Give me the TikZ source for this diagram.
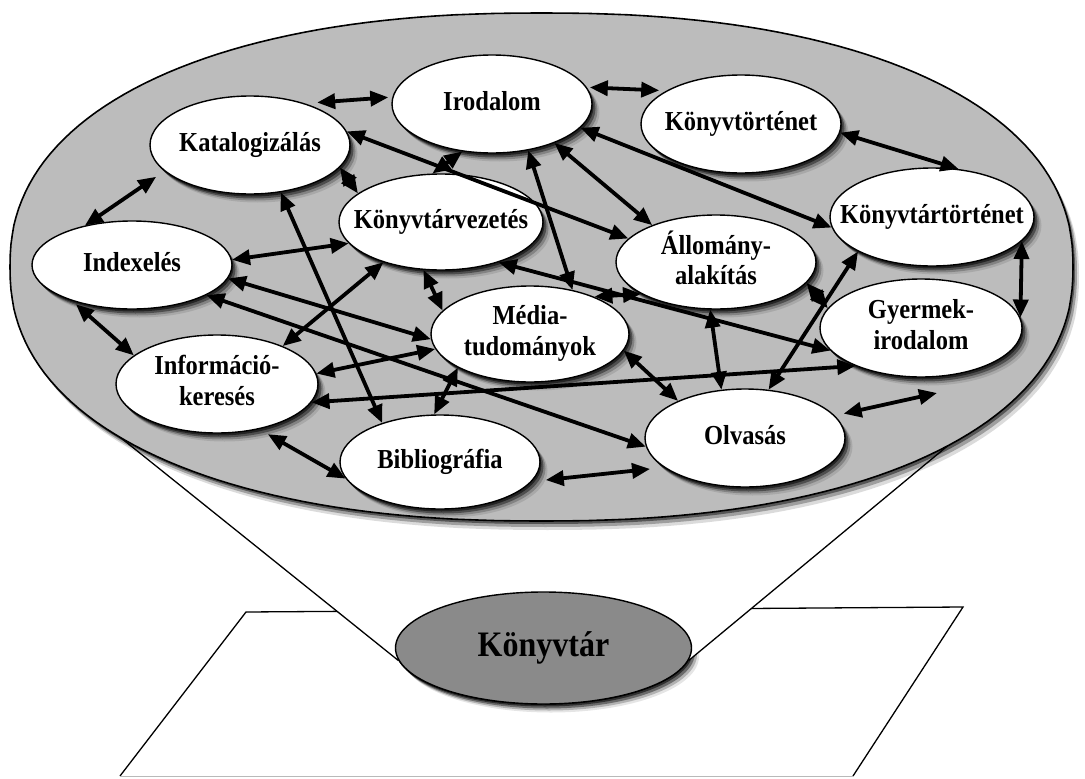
\documentclass[tikz,border=0pt]{standalone}
\usepackage{fontspec}
\setmainfont{Liberation Serif}
\usetikzlibrary{shapes.geometric,arrows.meta,shadows}
\definecolor{biggray}{RGB}{188,188,188}
\definecolor{knygray}{RGB}{138,138,138}
\newcommand{\lbtxt}[1]{\scalebox{1}[1.12]{\begin{tabular}{@{}c@{}}#1\end{tabular}}}
\begin{document}
\begin{tikzpicture}[x=1pt,y=-1pt,
  shd/.style={drop shadow={shadow xshift=1.5pt,shadow yshift=-2.5pt,opacity=.55,fill=black},
              drop shadow={shadow xshift=3.5pt,shadow yshift=-4.5pt,opacity=.4,fill=black},
              drop shadow={shadow xshift=5.5pt,shadow yshift=-6.5pt,opacity=.22,fill=black},
              drop shadow={shadow xshift=7.5pt,shadow yshift=-8.5pt,opacity=.1,fill=black}},
  nd/.style={ellipse, draw=black, line width=1.4pt, fill=white, inner sep=0pt, shd},
  lbl/.style={font=\fontsize{24.5}{27}\selectfont\bfseries, inner sep=0pt},
  dbl/.style={line width=3.8pt, {Triangle[length=18pt,width=15pt]}-{Triangle[length=18pt,width=15pt]}},
  thin/.style={line width=1.3pt},
  sepath/.style={insert path={
    plot[domain=0:90,samples=50] ({541.5+531.5*(abs(cos(\x))+0.00002)^0.889},{267-254*(abs(sin(\x))+0.00002)^0.889})
    -- plot[domain=90:180,samples=50] ({541.5-531.5*(abs(cos(\x))+0.00002)^0.889},{267-254*(abs(sin(\x))+0.00002)^0.889})
    -- plot[domain=180:270,samples=50] ({541.5-531.5*(abs(cos(\x))+0.00002)^0.889},{267+254*(abs(sin(\x))+0.00002)^0.889})
    -- plot[domain=270:360,samples=50] ({541.5+531.5*(abs(cos(\x))+0.00002)^0.889},{267+254*(abs(sin(\x))+0.00002)^0.889})
    -- cycle}}
]
\useasboundingbox[fill=white] (0,0) rectangle (1085,779);

% plane
\coordinate (p1) at (246,612);
\coordinate (p2) at (963,607);
\coordinate (p3) at (853,776);
\coordinate (p4) at (120,776);
\draw[thin] (p4) -- (p1) -- (p2) -- (p3);
\draw[line width=0.8pt, gray!55] (p3) -- (p4);

% Könyvtár node
\node[ellipse, draw=black, line width=1.4pt, fill=knygray, inner sep=0pt,
      minimum width=296pt, minimum height=112pt, shd] (kny) at (543.5,648) {};
\coordinate (fl) at (80,405);
\coordinate (fr) at (980,419);
\fill[white] (fl) -- (kny.185) -- (kny.-5) -- (fr) -- cycle;
\draw[thin] (fl) -- (kny.185);
\draw[thin] (fr) -- (kny.-5);
\node[ellipse, draw=black, line width=1.4pt, fill=knygray, inner sep=0pt,
      minimum width=296pt, minimum height=112pt] (kny2) at (kny) {};
\node[font=\fontsize{32}{36}\selectfont\bfseries, inner sep=0pt] (knyt) at (kny) {\scalebox{1}[1.12]{Könyvtár}};

% big field
\fill[black, opacity=.45, xshift=2pt, yshift=-3pt, sepath];
\fill[black, opacity=.28, xshift=4pt, yshift=-6pt, sepath];
\fill[black, opacity=.14, xshift=6pt, yshift=-9pt, sepath];
\filldraw[fill=biggray, draw=black, line width=1.6pt, sepath];

% nodes
\node[nd, minimum width=200pt, minimum height=98pt] (ir)  at (492,104) {};
\node[nd, minimum width=200pt, minimum height=98pt] (kat) at (250,145) {};
\node[nd, minimum width=200pt, minimum height=98pt] (kt)  at (741,124) {};
\node[nd, minimum width=204pt, minimum height=96pt] (kv)  at (441,222) {};
\node[nd, minimum width=200pt, minimum height=88pt] (ix)  at (132,265) {};
\node[nd, minimum width=204pt, minimum height=98pt] (ktt) at (932,217) {};
\node[nd, minimum width=200pt, minimum height=94pt] (all) at (716,262) {};
\node[nd, minimum width=202pt, minimum height=98pt] (gy)  at (921,328) {};
\node[nd, minimum width=198pt, minimum height=96pt] (med) at (530,334) {};
\node[nd, minimum width=202pt, minimum height=98pt] (inf) at (217,384) {};
\node[nd, minimum width=200pt, minimum height=94pt] (bib) at (440,462) {};
\node[nd, minimum width=200pt, minimum height=98pt] (olv) at (745,438) {};

\node[lbl] (irt)  at (ir)  {\lbtxt{Irodalom}};
\node[lbl] (katt) at (kat) {\lbtxt{Katalogizálás}};
\node[lbl] (ktt1) at (kt)  {\lbtxt{Könyvtörténet}};
\node[lbl] (kvt)  at (kv)  {\lbtxt{Könyvtárvezetés}};
\node[lbl] (ixt)  at (ix)  {\lbtxt{Indexelés}};
\node[lbl] (kttt) at (ktt) {\lbtxt{Könyvtártörténet}};
\node[lbl] (allt) at (all) {\lbtxt{Állomány-\\alakítás}};
\node[lbl] (gyt)  at (gy)  {\lbtxt{Gyermek-\\irodalom}};
\node[lbl] (medt) at (med) {\lbtxt{Média-\\tudományok}};
\node[lbl] (inft) at (inf) {\lbtxt{Információ-\\keresés}};
\node[lbl] (bibt) at (bib) {\lbtxt{Bibliográfia}};
\node[lbl] (olvt) at (olv) {\lbtxt{Olvasás}};

\coordinate (ofree) at (937,393);

% connectors
\draw[dbl, shorten <=12pt, shorten >=4pt] (kat.37) -- (ir.176);
\draw[dbl] (kat.8) -- (all.165);
\draw[dbl] (ir.238) -- (kv.100);
\draw[dbl] (kat.-14) -- (kv.161);
\draw[dbl, shorten <=10pt] (kat.197) -- (ix.140);
\draw[dbl] (ix.3) -- (kv.193);
\draw[dbl] (kat.-57) -- (bib.146);
\draw[dbl] (ir.-52) -- (med.46);
\draw[dbl, shorten <=3pt, shorten >=7pt] (ir.10) -- (kt.156);
\draw[dbl] (kt.-5) -- (ktt.61);
\draw[dbl] (ir.-15) -- (ktt.186);
\draw[dbl] (ir.-32) -- (all.150);
\draw[dbl] (ktt.205) -- (olv.64);
\draw[dbl] (ktt.-15) -- (gy.6);
\draw[dbl] (all.-13) -- (gy.168);
\draw[dbl] (all.-97) -- (olv.116);
\draw[dbl] (kv.-35) -- (gy.194);
\draw[dbl] (med.30) -- (all.203);
\draw[dbl] (med.-10) -- (olv.151);
\draw[dbl] (inf.-11) -- (gy.210);
\draw[dbl] (ix.-22) -- (olv.185);
\draw[dbl, shorten <=14pt, shorten >=14pt] (bib.-12) -- (olv.200);
\draw[dbl, shorten <=9pt] (olv.14) -- (ofree);
\draw[dbl, shorten <=5pt] (ix.211) -- (inf.161);
\draw[dbl] (ix.-8) -- (med.183);
\draw[dbl] (inf.30) -- (kv.215);
\draw[dbl] (inf.6) -- (med.189);
\draw[dbl] (bib.97) -- (med.205);
\draw[dbl, shorten <=10pt] (inf.-47) -- (bib.190);
\draw[dbl] (kv.-110) -- (med.165);
\end{tikzpicture}
\end{document}
